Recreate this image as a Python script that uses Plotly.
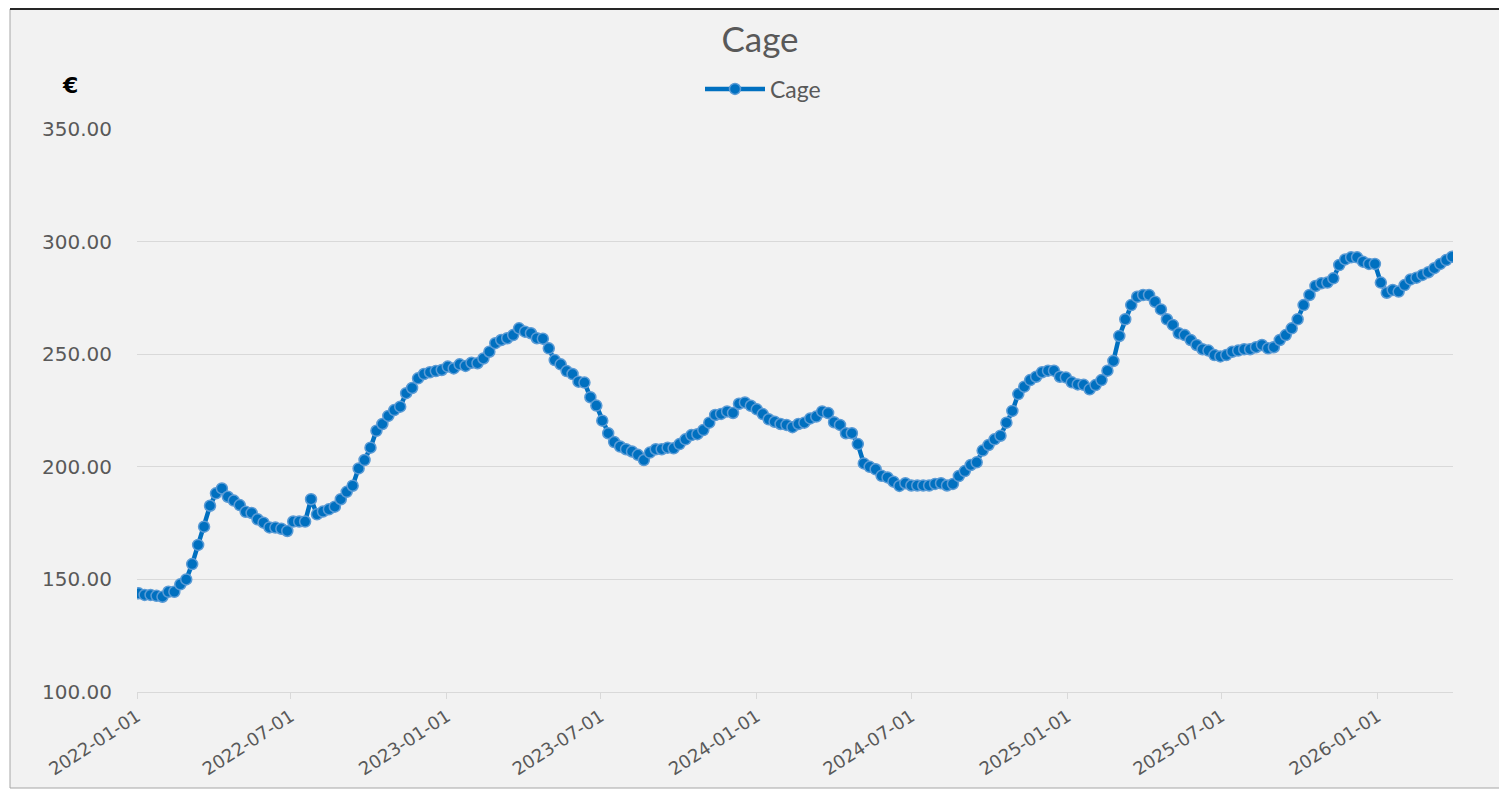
import pandas as pd
import plotly.graph_objects as go

series_name = "Cage"
start_date = "2022-01-03"
values = [
    143.8, 143.1, 143.1, 142.7, 142.3, 144.5, 144.5, 147.8, 150.0, 156.8,
    165.3, 173.4, 182.7, 188.2, 190.4, 186.7, 185.0, 183.0, 180.0, 179.5,
    176.7, 175.2, 173.1, 173.0, 172.5, 171.5, 175.7, 175.7, 175.7, 185.6,
    178.9, 180.1, 181.1, 182.3, 185.6, 188.9, 191.6, 199.3, 203.0, 208.5,
    216.0, 219.0, 222.6, 225.2, 226.7, 232.7, 235.0, 239.3, 241.2, 242.0,
    242.5, 243.0, 244.5, 243.7, 245.5, 244.8, 246.2, 246.0, 248.1, 251.1,
    254.9, 256.3, 257.1, 258.5, 261.5, 260.0, 259.3, 257.1, 256.9, 252.6,
    247.4, 245.5, 242.5, 241.2, 237.8, 237.4, 230.9, 227.2, 220.5, 214.9,
    211.0, 209.0, 207.8, 206.8, 205.3, 203.0, 206.3, 207.8, 207.8, 208.5,
    208.2, 210.1, 212.2, 214.1, 214.5, 216.3, 219.6, 223.0, 223.5, 224.6,
    223.9, 228.0, 228.6, 227.1, 225.5, 223.4, 221.1, 220.0, 219.0, 218.6,
    217.6, 219.0, 219.6, 221.5, 222.3, 224.6, 223.9, 219.8, 218.6, 214.9,
    214.9, 210.1, 201.5, 200.0, 198.9, 196.0, 195.3, 193.4, 191.5, 192.7,
    191.7, 191.7, 191.7, 191.7, 192.4, 192.7, 191.7, 192.4, 195.9, 198.1,
    200.8, 202.0, 207.2, 209.7, 212.2, 213.8, 219.6, 224.8, 232.3, 235.6,
    238.5, 240.0, 242.0, 242.7, 242.7, 240.0, 239.7, 237.5, 236.6, 236.4,
    234.4, 236.3, 238.5, 242.7, 247.0, 258.1, 265.5, 271.8, 275.5, 276.3,
    276.3, 273.3, 269.9, 265.5, 263.0, 259.3, 258.5, 256.3, 254.1, 252.2,
    251.6, 249.6, 249.0, 249.6, 251.1, 251.6, 252.2, 252.2, 253.1, 254.1,
    252.6, 253.1, 256.3, 258.5, 261.5, 265.5, 271.8, 276.3, 280.3, 281.5,
    281.8, 283.7, 289.6, 292.1, 293.0, 293.0, 291.1, 290.1, 290.1, 281.8,
    277.3, 278.5, 277.8, 280.7, 283.2, 284.0, 285.2, 286.4, 288.2, 290.1,
    291.8, 293.3,
]
dates = pd.date_range(start_date, periods=len(values), freq="7D")

OFF = 8  # page body margin
W, H = 1507 - OFF, 791 - OFF
L, R, T, B = 137 - OFF, 54, 129 - OFF, 99
pw, ph = W - L - R, H - T - B

def px_x(s):
    return (s - OFF - L) / pw

def px_y(s):
    return (H - B - (s - OFF)) / ph

def cx(s):
    return (s - OFF) / W

def cy(s):
    return 1 - (s - OFF) / H

fig = go.Figure()
fig.add_trace(go.Scatter(
    x=dates, y=values, mode="lines+markers", name=series_name,
    line=dict(color="#0070C0", width=4.5),
    marker=dict(symbol="circle", size=11, color="#0070C0",
                line=dict(color="#5B9BD5", width=1.5)),
))

fig.update_layout(
    width=W, height=H,
    margin=dict(l=L, r=R, t=T, b=B, autoexpand=False),
    paper_bgcolor="white",
    plot_bgcolor="rgba(0,0,0,0)",
    font=dict(family="DejaVu Sans", color="#595959"),
    title=dict(text="Cage", x=cx(760), xanchor="center", xref="container",
               y=cy(40), yanchor="middle", yref="container",
               font=dict(family="Lato", size=35, color="#595959")),
    legend=dict(orientation="h", x=cx(763), xanchor="center", xref="container",
                y=cy(89), yanchor="middle", yref="container",
                bgcolor="rgba(0,0,0,0)", itemwidth=60,
                font=dict(family="Lato", size=23, color="#595959")),
    showlegend=True,
    xaxis=dict(
        type="date", range=["2022-01-01", "2026-03-31"],
        tick0="2022-01-01", dtick="M6", tickformat="%Y-%m-%d",
        tickangle=-33, tickfont=dict(size=18, color="#595959"),
        showgrid=False, showline=True, linecolor="#D9D9D9", linewidth=1,
        ticks="outside", ticklen=6, tickcolor="#D9D9D9",
        zeroline=False, automargin=False,
    ),
    yaxis=dict(
        range=[100, 350], tick0=100, dtick=50, tickformat=".2f",
        tickfont=dict(size=20, color="#595959"),
        showgrid=True, gridcolor="#D9D9D9", gridwidth=1,
        showline=False, zeroline=False, ticks="", ticklabelstandoff=24,
        automargin=False,
    ),
    shapes=[
        dict(type="rect", xref="paper", yref="paper",
             x0=px_x(10), x1=px_x(1505), y0=px_y(788), y1=px_y(9),
             fillcolor="#F2F2F2", line=dict(color="#A6A6A6", width=1),
             layer="below"),
        dict(type="line", xref="paper", yref="paper",
             x0=px_x(10), x1=px_x(1505), y0=px_y(9), y1=px_y(9),
             line=dict(color="#262626", width=2), layer="below"),
    ],
    annotations=[
        dict(text="<b>€</b>", xref="paper", yref="paper",
             x=px_x(70), y=px_y(86), xanchor="center", yanchor="middle",
             showarrow=False, font=dict(family="DejaVu Sans", size=22, color="black")),
    ],
)

fig.write_html("out.html")
